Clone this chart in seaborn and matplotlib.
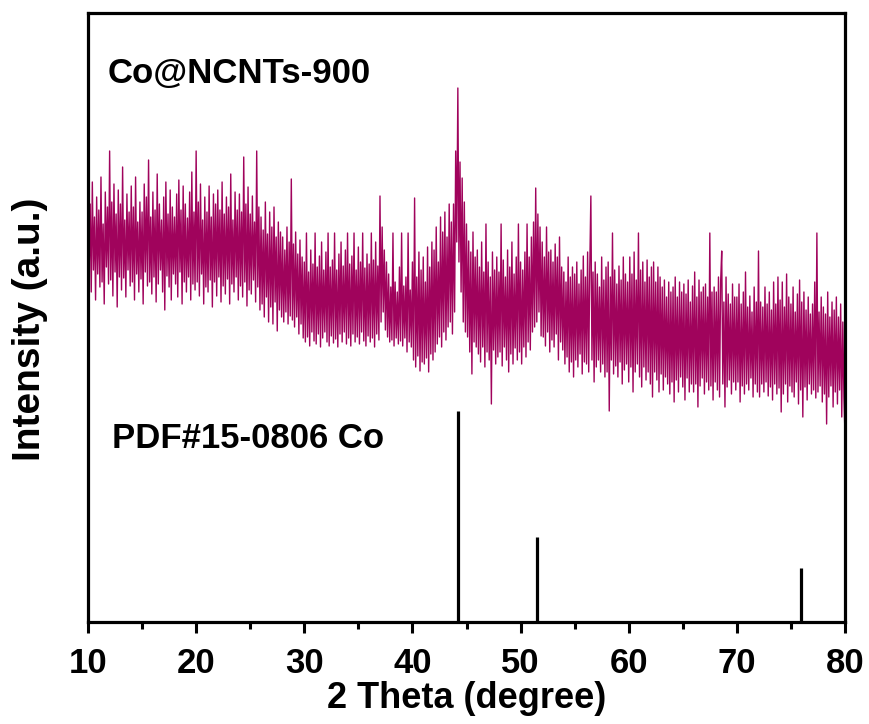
import numpy as np
import pandas as pd
import matplotlib
matplotlib.use("Agg")
import matplotlib.pyplot as plt
from matplotlib.ticker import MultipleLocator
import seaborn as sns

# ---- data ----
two_theta_start = 10.0
two_theta_step = 0.1
intensity = [
    431, 345, 418, 330, 440, 352, 405, 322, 425, 348,   # 10
    412, 335, 445, 340, 398, 318, 430, 355, 415, 338,   # 11
    471, 342, 420, 326, 438, 350, 408, 315, 432, 345,   # 12
    418, 332, 455, 344, 402, 325, 428, 352, 410, 336,   # 13
    436, 340, 415, 322, 445, 348, 400, 330, 420, 343,   # 14
    410, 318, 438, 350, 425, 336, 462, 340, 405, 328,   # 15
    430, 345, 412, 320, 448, 338, 418, 352, 402, 330,   # 16
    425, 312, 440, 346, 408, 335, 432, 322, 415, 348,   # 17
    405, 338, 428, 325, 442, 350, 412, 318, 436, 340,   # 18
    418, 330, 404, 345, 430, 322, 450, 338, 410, 332,   # 19
    471, 340, 420, 326, 438, 348, 402, 318, 425, 335,   # 20
    410, 330, 436, 342, 405, 315, 428, 340, 418, 326,   # 21
    432, 345, 412, 320, 440, 336, 408, 328, 425, 343,   # 22
    415, 318, 448, 338, 402, 330, 430, 345, 412, 322,   # 23
    428, 336, 410, 325, 465, 340, 418, 316, 435, 332,   # 24
    408, 328, 426, 342, 400, 320, 471, 335, 415, 312,   # 25
    405, 318, 392, 305, 420, 325, 388, 300, 410, 315,   # 26
    395, 298, 415, 320, 385, 291, 400, 312, 390, 305,   # 27
    385, 300, 372, 310, 395, 298, 380, 306, 443, 302,   # 28
    378, 295, 390, 305, 368, 288, 382, 298, 365, 284,   # 29
    360, 280, 389, 285, 350, 276, 372, 290, 358, 281,   # 30
    389, 278, 355, 288, 366, 275, 380, 284, 352, 290,   # 31
    370, 280, 389, 276, 355, 286, 362, 279, 389, 283,   # 32
    352, 275, 368, 288, 380, 280, 356, 290, 372, 278,   # 33
    389, 284, 358, 276, 366, 288, 389, 280, 352, 285,   # 34
    375, 278, 360, 290, 389, 281, 354, 276, 368, 286,   # 35
    358, 280, 389, 284, 362, 275, 380, 288, 356, 282,   # 36
    426, 300, 395, 310, 372, 292, 360, 285, 348, 280,   # 37
    335, 282, 389, 276, 340, 284, 330, 278, 355, 281,   # 38
    389, 276, 336, 284, 345, 270, 389, 280, 332, 275,   # 39
    360, 262, 424, 255, 345, 266, 370, 251, 352, 260,   # 40
    365, 258, 340, 264, 375, 250, 355, 268, 380, 262,   # 41
    372, 270, 395, 278, 360, 285, 405, 275, 390, 290,   # 42
    410, 282, 385, 295, 418, 300, 400, 288, 418, 310,   # 43
    471, 380, 534, 360, 460, 330, 444, 300, 420, 290,   # 44
    398, 285, 381, 270, 370, 248, 390, 280, 365, 275,   # 45
    372, 268, 355, 260, 380, 275, 350, 255, 398, 270,   # 46
    360, 262, 345, 218, 370, 272, 352, 258, 365, 265,   # 47
    350, 270, 398, 256, 362, 275, 345, 262, 372, 250,   # 48
    355, 268, 380, 258, 348, 274, 365, 262, 398, 270,   # 49
    360, 258, 352, 275, 370, 265, 398, 280, 365, 272,   # 50
    385, 290, 400, 295, 434, 300, 408, 310, 395, 286,   # 51
    380, 285, 365, 276, 395, 290, 370, 270, 372, 282,   # 52
    360, 275, 378, 288, 365, 262, 385, 280, 355, 272,   # 53
    350, 258, 340, 265, 365, 250, 345, 260, 355, 245,   # 54
    348, 262, 360, 255, 338, 268, 352, 248, 366, 260,   # 55
    345, 258, 370, 250, 355, 426, 262, 350, 240, 360,   # 56
    255, 348, 262, 335, 250, 365, 258, 342, 245, 355,   # 57
    250, 360, 211, 345, 262, 389, 248, 352, 256, 338,   # 58
    245, 356, 260, 342, 238, 365, 252, 348, 258, 340,   # 59
    240, 365, 255, 348, 230, 370, 250, 342, 258, 389,   # 60
    245, 352, 235, 360, 255, 340, 242, 362, 250, 345,   # 61
    238, 355, 225, 360, 250, 340, 242, 355, 230, 345,   # 62
    248, 335, 232, 342, 245, 325, 238, 340, 228, 330,   # 63
    240, 335, 220, 345, 242, 325, 230, 340, 245, 330,   # 64
    235, 338, 222, 328, 244, 342, 230, 320, 238, 336,   # 65
    230, 350, 238, 325, 215, 342, 236, 330, 244, 335,   # 66
    228, 338, 240, 325, 232, 389, 236, 330, 222, 335,   # 67
    240, 330, 232, 345, 225, 340, 371, 238, 320, 215,   # 68
    345, 235, 328, 242, 318, 228, 338, 240, 325, 232,   # 69
    325, 240, 338, 220, 318, 236, 330, 228, 350, 238,   # 70
    315, 232, 326, 244, 310, 225, 335, 238, 320, 230,   # 71
    371, 225, 320, 238, 315, 230, 335, 240, 318, 226,   # 72
    330, 235, 312, 222, 340, 238, 318, 228, 345, 234,   # 73
    322, 210, 340, 228, 315, 238, 348, 220, 325, 236,   # 74
    318, 230, 335, 225, 310, 240, 328, 218, 342, 232,   # 75
    320, 205, 330, 235, 312, 222, 325, 238, 308, 228,   # 76
    318, 232, 340, 224, 389, 230, 310, 236, 325, 220,   # 77
    315, 228, 308, 198, 330, 225, 305, 236, 320, 215,   # 78
    312, 230, 325, 218, 305, 232, 318, 205, 300, 225,   # 79
    188,                                                # 80
]
pdf_positions = [44.2, 51.5, 75.9]
pdf_heights = [211, 85, 54]
sample_label = "Co@NCNTs-900"
ref_label = "PDF#15-0806 Co"
x_ticks = [10, 20, 30, 40, 50, 60, 70, 80]

two_theta = [round(two_theta_start + i * two_theta_step, 2) for i in range(len(intensity))]
df = pd.DataFrame({"two_theta": two_theta, "intensity": intensity})

# ---- style ----
sns.set_theme(style="white")
plt.rcParams["font.family"] = ["Liberation Sans", "DejaVu Sans"]
plt.rcParams["font.weight"] = "bold"
plt.rcParams["text.color"] = "black"
plt.rcParams["axes.labelcolor"] = "black"
plt.rcParams["xtick.color"] = "black"

fig = plt.figure(figsize=(8.69, 7.24), dpi=100)
ax = fig.add_axes([88 / 869, 1 - 622 / 724, (845 - 88) / 869, (622 - 13) / 724])

sns.lineplot(data=df, x="two_theta", y="intensity", ax=ax, color="#A0035C",
             linewidth=1.0, estimator=None, sort=False)
ax.vlines(pdf_positions, 0, pdf_heights, color="black", linewidth=2.3)

ax.set_xlim(10, 80)
ax.set_ylim(0, 609)
ax.set_xticks(x_ticks)
ax.xaxis.set_minor_locator(MultipleLocator(5))
ax.set_yticks([])

for s in ax.spines.values():
    s.set_linewidth(2.3)
    s.set_color("black")

ax.tick_params(axis="x", which="major", direction="out", length=8, width=2.2,
               color="black", labelcolor="black", labelsize=25, pad=10,
               bottom=True, top=False)
ax.tick_params(axis="x", which="minor", direction="out", length=5, width=2.2,
               color="black", bottom=True, top=False)
for lbl in ax.get_xticklabels():
    lbl.set_fontweight("bold")

ax.set_xlabel("2 Theta (degree)", fontsize=26, fontweight="bold", labelpad=1,
              color="black")
ax.set_ylabel("Intensity (a.u.)", fontsize=28, fontweight="bold", color="black")
ax.yaxis.set_label_coords(-0.053, 0.481)

ax.text(11.85, 548, sample_label, fontsize=25, fontweight="bold",
        va="center", ha="left", color="black")
ax.text(12.2, 183, ref_label, fontsize=25, fontweight="bold",
        va="center", ha="left", color="black")

fig.savefig("out.png", dpi=100)
